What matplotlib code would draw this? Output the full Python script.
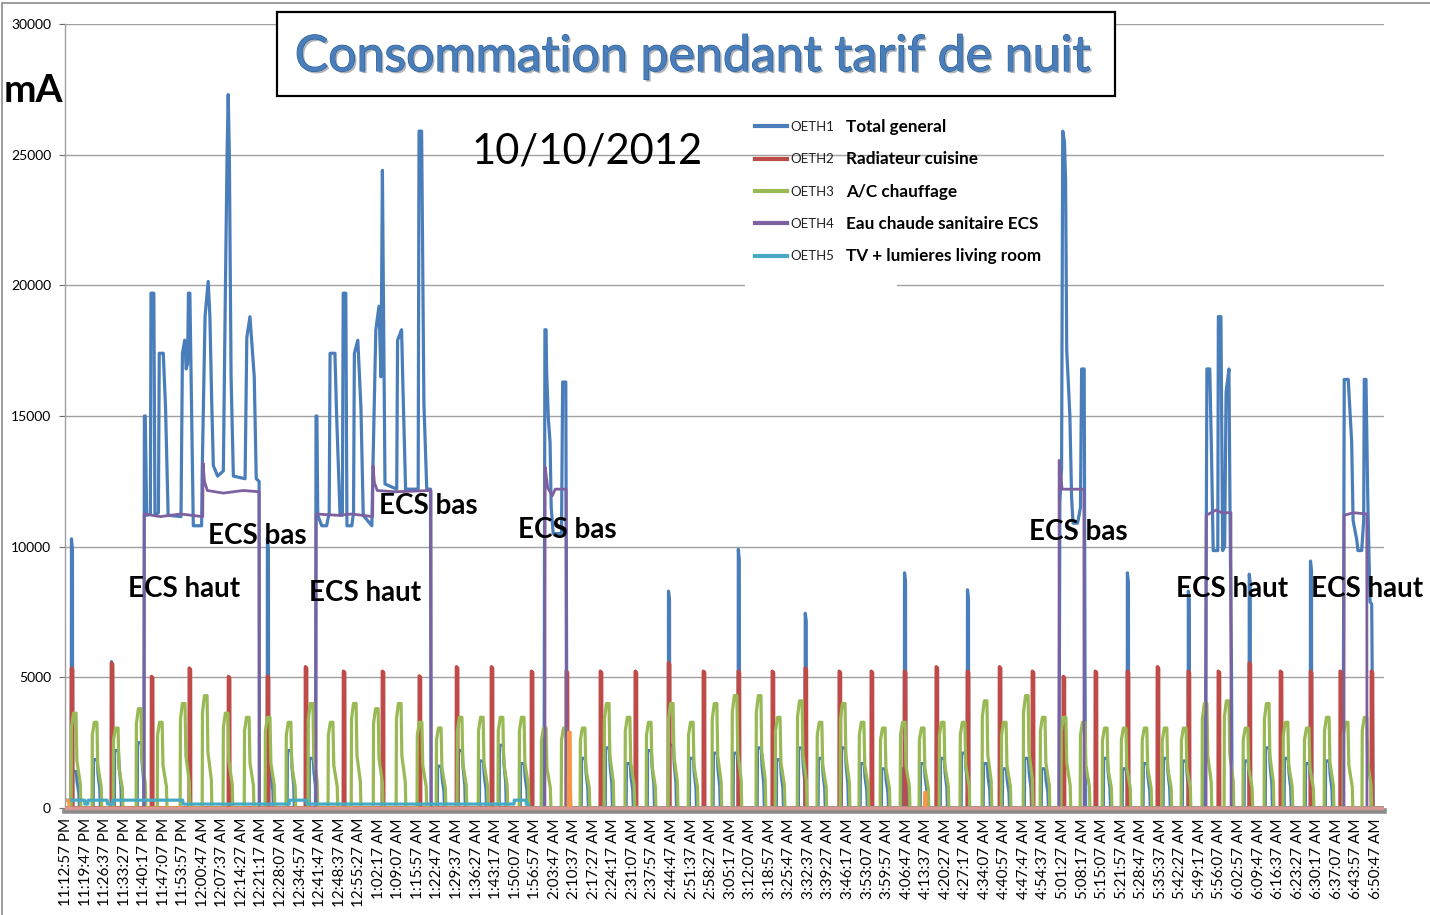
import numpy as np
import matplotlib
matplotlib.use("Agg")
import matplotlib.pyplot as plt
from matplotlib.lines import Line2D
from matplotlib.patches import Rectangle
import matplotlib.patheffects as pe

plt.rcParams['font.family'] = ['Lato', 'DejaVu Sans']

W, H = 1430, 915

# ---------------- data (time in minutes after 11:12:57 PM) ----------------
tick_labels = [
    "11:12:57 PM", "11:19:47 PM", "11:26:37 PM", "11:33:27 PM", "11:40:17 PM", "11:47:07 PM",
    "11:53:57 PM", "12:00:47 AM", "12:07:37 AM", "12:14:27 AM", "12:21:17 AM", "12:28:07 AM",
    "12:34:57 AM", "12:41:47 AM", "12:48:37 AM", "12:55:27 AM", "1:02:17 AM", "1:09:07 AM",
    "1:15:57 AM", "1:22:47 AM", "1:29:37 AM", "1:36:27 AM", "1:43:17 AM", "1:50:07 AM",
    "1:56:57 AM", "2:03:47 AM", "2:10:37 AM", "2:17:27 AM", "2:24:17 AM", "2:31:07 AM",
    "2:37:57 AM", "2:44:47 AM", "2:51:37 AM", "2:58:27 AM", "3:05:17 AM", "3:12:07 AM",
    "3:18:57 AM", "3:25:47 AM", "3:32:37 AM", "3:39:27 AM", "3:46:17 AM", "3:53:07 AM",
    "3:59:57 AM", "4:06:47 AM", "4:13:37 AM", "4:20:27 AM", "4:27:17 AM", "4:34:07 AM",
    "4:40:57 AM", "4:47:47 AM", "4:54:37 AM", "5:01:27 AM", "5:08:17 AM", "5:15:07 AM",
    "5:21:57 AM", "5:28:47 AM", "5:35:37 AM", "5:42:27 AM", "5:49:17 AM", "5:56:07 AM",
    "6:02:57 AM", "6:09:47 AM", "6:16:37 AM", "6:23:27 AM", "6:30:17 AM", "6:37:07 AM",
    "6:43:57 AM", "6:50:47 AM"]
tick_step = 6 + 50 / 60.0
t_end = 460.7

series_names = ["OETH1", "OETH2", "OETH3", "OETH4", "OETH5"]
series_desc = ["Total general", "Radiateur cuisine", "A/C chauffage",
               "Eau chaude sanitaire ECS", "TV + lumieres living room"]

# OETH2 radiator spikes
red_times = [2.1, 16.1, 30.1, 43.3, 57.0, 70.6, 83.9, 97.2, 110.8, 123.7,
             136.7, 148.9, 162.9, 175.1, 187.0, 199.2, 210.8, 223.0, 235.2, 247.1,
             258.6, 270.5, 281.7, 293.3, 304.4, 315.3, 326.5, 338.0, 348.8, 360.0,
             371.2, 381.7, 392.5, 403.0, 413.8, 424.7, 435.2, 445.6, 456.5]
red_peaks = [5350, 5550, 5030, 5350, 5030, 5050, 5400, 5230, 5230, 5050,
             5400, 5400, 5230, 5230, 5230, 5230, 5550, 5230, 5230, 5230,
             5350, 5230, 5230, 5230, 5400, 5230, 5400, 5230, 5030, 5230,
             5230, 5400, 5230, 5230, 5550, 5230, 5230, 5230, 5230]

# OETH3 heating humps
green_times = [3.5, 10.8, 18.2, 26.2, 33.6, 41.6, 49.3, 56.6, 64.0, 71.3,
               78.6, 86.3, 93.3, 101.4, 109.1, 117.1, 124.4, 131.1, 138.4, 145.8,
               152.7, 160.1, 167.8, 174.8, 181.4, 189.8, 197.1, 204.5, 212.2, 219.2,
               227.5, 234.5, 242.9, 249.6, 257.3, 264.2, 272.3, 278.9, 286.3, 293.3,
               299.9, 306.9, 314.2, 321.9, 328.6, 336.3, 342.2, 349.5, 356.2, 363.9,
               370.5, 377.8, 384.8, 391.5, 398.8, 406.5, 413.1, 420.5, 427.1, 434.5,
               441.5, 448.1, 454.7]
green_peaks = [3630, 3280, 3060, 3800, 3280, 4000, 4300, 3630, 3470, 3470,
               3280, 4000, 3280, 4000, 3800, 4000, 3280, 3060, 3470, 3470,
               3470, 3470, 3060, 3060, 3060, 4000, 3470, 3280, 4000, 3280,
               4000, 4300, 4300, 3470, 4100, 3280, 4000, 3280, 3060, 3280,
               3060, 3280, 3280, 4100, 3280, 4300, 3470, 3470, 3280, 3060,
               3060, 3060, 3060, 3060, 4000, 4100, 3060, 4000, 3280, 3060,
               3470, 3280, 3470]
# OETH1 level during the heating humps
blue_hump_peaks = [1400, 1850, 2200, 2500, 1800, 1900, 2000, 1900, 1800, 1700,
                   2200, 1900, 1800, 1900, 1900, 1900, 1900, 1600, 2200, 1800,
                   2400, 1700, 1900, 1800, 1900, 2300, 1700, 2200, 2400, 1900,
                   2100, 2100, 2300, 1850, 2300, 1900, 2300, 1700, 1500, 1500,
                   1700, 1900, 2100, 1700, 1500, 1900, 1500, 2000, 1500, 1900,
                   1500, 1700, 1900, 1800, 2000, 2000, 1800, 2300, 1900, 1700,
                   1800, 1900, 2000]
# OETH1 peaks above the radiator spikes
blue_spike_times = [2.1, 16.1, 70.6, 210.8, 235.2, 258.6, 293.3, 315.3, 371.2, 392.5, 413.8, 435.2]
blue_spike_peaks = [10300, 5600, 10300, 8300, 9900, 7450, 9000, 8350, 9000, 8300, 8950, 9450]

# OETH4 hot water tank (ECS)
purple_t = [0.0, 27.3, 27.35, 33.0, 40.0, 47.8, 47.9, 48.4, 49.4, 55.0, 62.0, 67.5, 67.55,
            87.4, 87.45, 95.0, 100.0, 107.2, 107.3, 107.8, 108.8, 115.0, 127.6, 127.65,
            167.4, 167.45, 168.4, 170.0, 171.0, 174.8, 174.85,
            347.1, 347.15, 348.2, 355.8, 355.85,
            398.5, 398.55, 402.0, 404.0, 407.2, 407.25,
            446.7, 446.75, 450.0, 454.7, 454.75, t_end]
purple_v = [0, 0, 11250, 11150, 11250, 11150, 13200, 12500, 12150, 12050, 12150, 12100, 0,
            0, 11250, 11200, 11250, 11150, 13100, 12450, 12150, 12100, 12150, 0,
            0, 13050, 12250, 11950, 12200, 12200, 0,
            0, 13300, 12200, 12200, 0,
            0, 11200, 11400, 11300, 11300, 0,
            0, 11200, 11300, 11250, 0, 0]

# OETH1 during the ECS heating periods
blue_ecs1_t = [27.2, 27.4, 27.7, 28.2, 29.5, 29.7, 30.7, 31.1, 32.3, 32.6, 34.0, 34.8, 35.7,
               40.2, 40.7, 41.5, 42.0, 42.5, 42.8, 43.3, 44.5, 47.4, 47.6, 48.6, 49.7, 50.3,
               50.9, 51.5, 53.0, 55.0, 55.6, 56.3, 56.7, 57.1, 57.7, 58.5, 62.6, 63.2, 64.3,
               65.8, 66.5, 67.5, 67.6]
blue_ecs1_v = [0, 15000, 15000, 11200, 11250, 19700, 19700, 11200, 11300, 17400, 17400, 15300, 11200,
               11150, 17400, 17900, 16800, 17000, 19700, 19700, 10800, 10800, 12800, 18800, 20150, 18800,
               15700, 13100, 12700, 12900, 18800, 25000, 27300, 25000, 16500, 12700, 12600, 18000, 18800,
               16500, 12600, 12500, 0]
blue_ecs2_t = [87.2, 87.4, 87.7, 88.0, 89.4, 91.1, 92.0, 92.3, 94.0, 94.6, 95.8, 96.6, 96.9, 97.8,
               98.2, 99.9, 100.5, 100.8, 102.0, 103.1, 103.9, 106.9, 107.3, 108.3, 109.4, 110.1,
               110.6, 110.9, 111.5, 115.6, 115.9, 117.3, 117.8, 118.7, 123.1, 123.4, 124.3, 125.1,
               126.1, 127.4, 127.6]
blue_ecs2_v = [0, 15000, 15000, 11200, 10800, 10800, 11300, 17400, 17400, 15000, 11200, 11200, 19700, 19700,
               10800, 10800, 11300, 17400, 17900, 15300, 11200, 10800, 13100, 18300, 19200, 16500,
               24400, 20300, 12400, 12200, 17900, 18300, 16000, 12200, 12200, 25900, 25900, 15500,
               12200, 12200, 0]
blue_ecs3_t = [167.1, 167.4, 167.8, 168.0, 168.6, 169.2, 169.6, 170.3, 173.2, 173.6, 174.7, 175.0, 175.3]
blue_ecs3_v = [0, 18300, 18300, 16700, 14900, 14000, 11500, 10500, 10500, 16300, 16300, 5200, 0]
blue_ecs4_t = [347.1, 347.4, 348.0, 348.4, 349.0, 349.4, 349.8, 350.3, 350.9, 351.5, 352.0, 353.6,
               354.6, 355.0, 355.9, 356.2, 356.4]
blue_ecs4_v = [0, 11700, 13000, 25900, 25500, 24000, 17500, 16400, 15000, 11900, 10900, 10900,
               11500, 16800, 16800, 5000, 0]
blue_ecs5_t = [397.9, 398.3, 398.6, 398.8, 399.8, 400.4, 401.0, 402.6, 402.8, 403.7, 404.3, 405.0,
               405.5, 406.5, 406.9, 407.4, 407.6]
blue_ecs5_v = [0, 3000, 11200, 16800, 16800, 13600, 9850, 9850, 18800, 18800, 9850, 10000,
               15900, 16800, 11000, 5200, 0]
blue_ecs6_t = [446.4, 446.8, 448.2, 449.4, 449.9, 451.2, 451.6, 452.9, 453.6, 453.8, 454.4, 455.0,
               455.8, 456.4, 456.9]
blue_ecs6_v = [0, 16400, 16400, 14000, 11000, 10250, 9850, 9850, 11000, 16400, 16400, 12000,
               7900, 7800, 0]

# OETH5 TV + lights
cyan_t = [0.0, 6.5, 6.6, 7.6, 7.7, 14.4, 14.5, 16.2, 16.3, 40.8, 40.9, 78.0, 78.1, 84.0, 84.1,
          156.6, 156.7, 160.8, 160.9, 161.5, 161.6, t_end]
cyan_v = [300, 300, 150, 150, 300, 300, 150, 150, 300, 300, 150, 150, 300, 300, 150,
          150, 300, 300, 150, 150, 0, 0]
# extra channel (not in legend)
orange_t = [0.0, 0.9, 1.0, 175.5, 175.6, 176.3, 176.4, 300.0, 300.1, 300.6, 300.7, t_end]
orange_v = [300, 300, 0, 0, 2900, 2900, 0, 0, 600, 600, 0, 0]

ecs_labels = ["ECS haut", "ECS bas", "ECS haut", "ECS bas", "ECS bas", "ECS bas", "ECS haut", "ECS haut"]
ecs_label_x = [41.2, 66.8, 104.5, 126.5, 175.1, 353.7, 407.5, 454.7]
ecs_label_y = [8380, 10410, 8230, 11560, 10640, 10560, 8380, 8380]

# ---------------- styles ----------------
BLUE, RED, GREEN, PURPLE, CYAN, ORANGE = "#4a7ebb", "#be4b48", "#98b954", "#7d60a0", "#46aac5", "#f79646"
colors = [BLUE, RED, GREEN, PURPLE, CYAN]

fig = plt.figure(figsize=(W / 100, H / 100), dpi=100)
fig.patch.set_facecolor("white")
px_per_unit = 784 / 30000.0
ybot = -120
bottom_px = 808 + (-ybot) * px_per_unit
ax = fig.add_axes([65 / W, 1 - bottom_px / H, (1384 - 65) / W, (bottom_px - 24) / H])
ax.set_xlim(-0.35, t_end)
ax.set_ylim(ybot, 30000)

# ---------------- OETH1 (blue) ----------------
lw = 2.3
ecs_ranges = [(27.3, 67.5), (87.4, 127.6), (167.4, 174.8), (347.1, 355.8), (398.5, 407.2), (446.7, 454.7)]
ax.plot([0, t_end], [0, 0], color=BLUE, lw=lw, zorder=2.0)
hump_off_b = [-1.3, -1.2, 0.1, 0.4, 1.0, 1.2]
hump_frac_b = [0, 1.0, 1.0, 0.7, 0.4, 0]
for c, p in zip(green_times, blue_hump_peaks):
    if any(a - 0.5 <= c <= b + 0.5 for a, b in ecs_ranges):
        continue
    ax.plot([c + o for o in hump_off_b], [p * f for f in hump_frac_b], color=BLUE, lw=lw, zorder=2.0)
for t, v in zip(blue_spike_times, blue_spike_peaks):
    ax.plot([t - 0.25, t - 0.2, t + 0.15, t + 0.25], [0, v, v * 0.96, 0], color=BLUE, lw=lw, zorder=2.0)
for bt, bv in [(blue_ecs1_t, blue_ecs1_v), (blue_ecs2_t, blue_ecs2_v), (blue_ecs3_t, blue_ecs3_v),
               (blue_ecs4_t, blue_ecs4_v), (blue_ecs5_t, blue_ecs5_v), (blue_ecs6_t, blue_ecs6_v)]:
    ax.plot(bt, bv, color=BLUE, lw=lw, zorder=2.0)

# ---------------- OETH2 (red) ----------------
rt, rv = [0.0], [0.0]
for t, v in zip(red_times, red_peaks):
    rt += [t - 0.25, t - 0.2, t + 0.2, t + 0.25]
    rv += [0, v, v * 0.99, 0]
rt.append(t_end); rv.append(0)
ax.plot(rt, rv, color=RED, lw=2.6, zorder=2.1)

# ---------------- OETH3 (green) ----------------
hump_off_g = [-1.7, -1.6, -0.9, 0.0, 0.3, 1.0, 1.5, 1.7]
hump_frac_g = [0, 0.85, 1.0, 1.0, 0.5, 0.35, 0.25, 0]
gt, gv = [0.0], [0.0]
for c, p in zip(green_times, green_peaks):
    gt += [c + o for o in hump_off_g]
    gv += [p * f for f in hump_frac_g]
gt.append(t_end); gv.append(0)
ax.plot(gt, gv, color=GREEN, lw=2.3, zorder=2.2)

# ---------------- OETH4, OETH5, extra ----------------
ax.plot(purple_t, purple_v, color=PURPLE, lw=2.0, zorder=2.3)
ax.plot(cyan_t, cyan_v, color=CYAN, lw=2.3, zorder=2.4)
ax.plot(orange_t, orange_v, color=ORANGE, lw=2.0, zorder=2.5)
ax.axhline(0, color="#d99694", lw=2.4, zorder=2.6)

# ---------------- axes styling ----------------
ax.set_yticks(np.arange(0, 30001, 5000))
ax.set_yticklabels([str(v) for v in range(0, 30001, 5000)])
ax.set_xticks([k * tick_step for k in range(len(tick_labels))])
ax.set_xticklabels(tick_labels, rotation=90, fontsize=11)
ax.tick_params(axis="x", length=0, pad=5, colors="black")
ax.tick_params(axis="y", length=4, pad=6, labelsize=10, colors="#6e6e6e", labelcolor="black")
ax.grid(axis="y", color="#a0a0a0", lw=1.0)
ax.set_axisbelow(True)
for s in ["top", "right"]:
    ax.spines[s].set_visible(False)
ax.spines["left"].set_color("#a0a0a0")
ax.spines["left"].set_linewidth(1.0)
ax.spines["bottom"].set_color("#8c8c8c")
ax.spines["bottom"].set_linewidth(4)

# gap in the 20000 gridline behind the legend area
ax.add_patch(Rectangle((745 / W, 1 - 290 / H), 152 / W, 10 / H, transform=fig.transFigure,
                       facecolor="white", edgecolor="none", zorder=0.8))

for txt, x, y in zip(ecs_labels, ecs_label_x, ecs_label_y):
    ax.text(x, y, txt, ha="center", va="center", fontsize=20, fontweight="bold", color="black", zorder=5)

# ---------------- legend ----------------
handles = [Line2D([], [], color=c, lw=3) for c in colors]
leg = ax.legend(handles, series_names, loc="upper left", bbox_to_anchor=(755 / W, 1 - 121 / H),
                bbox_transform=fig.transFigure, frameon=False, fontsize=9.5, handlelength=2.45,
                handletextpad=0.25, labelspacing=1.54, borderpad=0, borderaxespad=0)
for t in leg.get_texts():
    t.set_color("#222222")

# ---------------- titles & frame ----------------
fig.patches.append(Rectangle((2 / W, -0.01), 1.05, 1 - 3 / H + 0.01, transform=fig.transFigure,
                             fill=False, edgecolor="#8c8c8c", lw=1.2))
fig.patches.append(Rectangle((277 / W, 1 - 96 / H), (1115 - 277) / W, (96 - 12) / H,
                             transform=fig.transFigure, facecolor="white", edgecolor="black", lw=1.6))
fig.text(693 / W, 1 - 57 / H, "Consommation pendant tarif de nuit", ha="center", va="center",
         fontsize=36, color="#4a7ebb",
         path_effects=[pe.withSimplePatchShadow(offset=(1.5, -1.5), alpha=0.35),
                       pe.withStroke(linewidth=0.8, foreground="#2d5f96")])
fig.text(587 / W, 1 - 152 / H, "10/10/2012", ha="center", va="center", fontsize=30, color="black")
fig.text(4 / W, 1 - 90 / H, "mA", ha="left", va="center", fontsize=28, fontweight="bold", color="black")

fig.canvas.draw()
renderer = fig.canvas.get_renderer()
for txt, desc in zip(leg.get_texts(), series_desc):
    bb = txt.get_window_extent(renderer)
    yc = (bb.y0 + bb.y1) / 2
    fig.text(846 / W, yc / H, desc, ha="left", va="center", fontsize=12.3, fontweight="bold", color="black")

fig.savefig("out.png", dpi=100, facecolor="white")
